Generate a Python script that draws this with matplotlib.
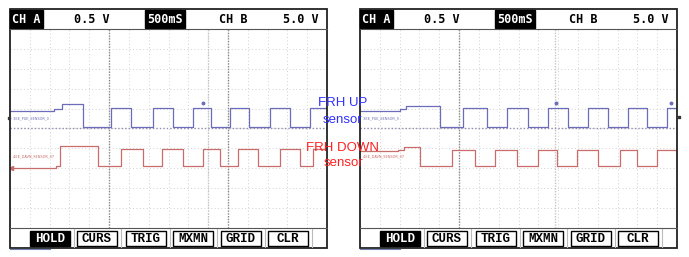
"""
Two oscilloscope captures of the FRH UP / FRH DOWN sensor signals.
"""

import matplotlib
matplotlib.use('Agg')
import matplotlib.pyplot as plt
from matplotlib.patches import Rectangle

# time base: 500 ms/div, 16 divisions -> 0..8000 ms ; levels in screen divisions (0..10)
T_SPAN = 8000
N_XDIV = 16
N_YDIV = 10

# left capture (edge times in ms, level after each edge)
L_BLUE_T = [0, 1100, 1300, 1840, 2550, 3060, 3610, 4120, 4620, 5080, 5560, 6040, 6570, 7070, 7580]
L_BLUE_V = [5.9, 6.0, 6.22, 5.1, 6.05, 5.1, 6.05, 5.1, 6.05, 5.1, 6.05, 5.1, 6.05, 5.1, 6.05]
L_RED_T = [0, 1150, 1250, 2220, 2800, 3360, 3840, 4370, 4870, 5300, 5760, 6260, 6820, 7320, 7650]
L_RED_V = [3.0, 3.1, 4.1, 3.1, 3.95, 3.1, 3.95, 3.1, 3.95, 3.1, 3.95, 3.1, 3.95, 3.1, 3.95]

# right capture
R_BLUE_T = [0, 1000, 1150, 2020, 2600, 3210, 3710, 4240, 4750, 5250, 5760, 6260, 6770, 7250, 7750]
R_BLUE_V = [5.9, 6.0, 6.15, 5.1, 6.05, 5.1, 6.05, 5.1, 6.05, 5.1, 6.05, 5.1, 6.05, 5.1, 6.05]
R_RED_T = [0, 950, 1100, 1520, 2320, 2900, 3410, 3960, 4490, 4970, 5480, 6010, 6570, 6990, 7500]
R_RED_V = [3.85, 3.9, 4.05, 3.1, 3.9, 3.1, 3.9, 3.1, 3.9, 3.1, 3.9, 3.1, 3.9, 3.1, 3.9]

# small dots drawn by the scope above some pulses
L_DOTS_T = [4870]
R_DOTS_T = [4940, 7850]
DOT_LEVEL = 6.3

BLUE_GND = 5.0
CURSORS = [[(2500, '#8a8a8a'), (5500, '#8a8a8a'), (5000, '#c4c4c4')],
           [(2500, '#8a8a8a'), (4920, '#c4c4c4')]]

HEADER = ['CH A', '0.5 V', '500mS', 'CH B', '5.0 V']
HEADER_INV = [True, False, True, False, False]
HEADER_X = [0, 63, 135, 208, 272]
HEADER_W = [33, 38, 40, 30, 37]
BUTTONS = ['HOLD', 'CURS', 'TRIG', 'MXMN', 'GRID', 'CLR']
BUTTON_X = [20, 67, 116, 163, 211, 258]
BUTTON_W = 40

BLUE = '#6c6cb8'
RED = '#c86c6c'
W, H = 689, 257
PANEL_X = [10, 360]
PANEL_W = 317
TOP, HDR_BOT, PLOT_BOT, BOT = 9, 29, 228, 248


def step_line(t, v):
    xs, ys = [], []
    for i, (ti, vi) in enumerate(zip(t, v)):
        if i > 0:
            xs.append(ti)
            ys.append(v[i - 1])
        xs.append(ti)
        ys.append(vi)
    xs.append(T_SPAN)
    ys.append(v[-1])
    return xs, ys


def scope_axes(fig, x0):
    ax = fig.add_axes([x0 / W, (H - PLOT_BOT) / H, PANEL_W / W, (PLOT_BOT - HDR_BOT) / H])
    ax.set_xlim(0, T_SPAN)
    ax.set_ylim(0, N_YDIV)
    for i in range(1, N_XDIV):
        ax.axvline(i * T_SPAN / N_XDIV, color='#d0d0d0', lw=0.7, ls=(0, (1, 2.5)))
    for j in range(1, N_YDIV):
        ax.axhline(j, color='#d0d0d0', lw=0.7, ls=(0, (1, 2.5)))
    ax.set_xticks([])
    ax.set_yticks([])
    for s in ax.spines.values():
        s.set_visible(False)
    return ax


def main():
    fig = plt.figure(figsize=(W / 100, H / 100), dpi=100)
    data = [(L_BLUE_T, L_BLUE_V, L_RED_T, L_RED_V, L_DOTS_T),
            (R_BLUE_T, R_BLUE_V, R_RED_T, R_RED_V, R_DOTS_T)]

    for k, x0 in enumerate(PANEL_X):
        ax = scope_axes(fig, x0)
        for xc, col in CURSORS[k]:
            ax.axvline(xc, color=col, lw=1.0, ls=(0, (1, 1)))
        ax.axhline(BLUE_GND, color='#9090b0', lw=1.0, ls=(0, (1, 1.5)))
        bt, bv, rt, rv, dots = data[k]
        ax.plot(*step_line(bt, bv), color=BLUE, lw=0.9)
        ax.plot(*step_line(rt, rv), color=RED, lw=0.9)
        ax.plot(dots, [DOT_LEVEL] * len(dots), ls='none', marker='o', ms=1.8, color=BLUE)
        ax.text(60, 5.5, '3.EE_PUE_SENSOR_0', color=BLUE, fontsize=2.5, va='center')
        ax.text(60, 3.6, '4.EE_DAVN_SENSOR_07', color=RED, fontsize=2.5, va='center')
        if k == 0:
            ax.plot([30], [rv[0]], ls='none', marker='<', ms=3, color=RED)

    # screen chrome: frames, header row, soft buttons
    ov = fig.add_axes([0, 0, 1, 1])
    ov.set_xlim(0, W)
    ov.set_ylim(H, 0)
    ov.axis('off')
    for x0 in PANEL_X:
        ov.add_patch(Rectangle((x0, TOP), PANEL_W, BOT - TOP, fill=False, ec='#222222', lw=1.3))
        ov.plot([x0, x0 + PANEL_W], [HDR_BOT, HDR_BOT], color='#555555', lw=0.8)
        ov.plot([x0, x0 + PANEL_W], [PLOT_BOT, PLOT_BOT], color='#555555', lw=0.8)
        for lab, inv, hx, hw in zip(HEADER, HEADER_INV, HEADER_X, HEADER_W):
            if inv:
                ov.add_patch(Rectangle((x0 + hx, TOP + 1), hw, HDR_BOT - TOP - 2, color='black'))
            ov.text(x0 + hx + hw / 2, (TOP + HDR_BOT) / 2 + 0.5, lab, ha='center', va='center',
                    family='DejaVu Sans Mono', fontweight='bold', fontsize=8.5,
                    color='white' if inv else 'black')
        for lab, bx in zip(BUTTONS, BUTTON_X):
            hold = lab == 'HOLD'
            ov.add_patch(Rectangle((x0 + bx, 230.5), BUTTON_W, 15, fc='black' if hold else 'white',
                                   ec='black', lw=1.0))
            ov.text(x0 + bx + BUTTON_W / 2, 238.5, lab, ha='center', va='center',
                    family='Liberation Mono', fontweight='bold', fontsize=9,
                    color='white' if hold else 'black')
            ov.plot([x0 + bx + BUTTON_W + 3.5] * 2, [229, 247], color='#bbbbbb', lw=0.8)
        ov.plot([x0, x0 + 40], [249, 249], color='#7080b0', lw=0.8)

    # side markers of the scope screens
    ov.plot([8.5, 678.5], [118, 117], ls='none', marker='s', ms=1.5, color='#333333')

    ov.text(343, 103, 'FRH UP', color='#3030ff', fontsize=9.5, ha='center', va='center',
            family='Liberation Sans')
    ov.text(342, 120, 'sensor', color='#3030ff', fontsize=9.5, ha='center', va='center',
            family='Liberation Sans')
    ov.text(343, 148, 'FRH DOWN', color='#ff2020', fontsize=9.5, ha='center', va='center',
            family='Liberation Sans')
    ov.text(343, 163, 'sensor', color='#ff2020', fontsize=9.5, ha='center', va='center',
            family='Liberation Sans')

    fig.savefig('out.png', dpi=100)
    plt.close(fig)


if __name__ == '__main__':
    main()
